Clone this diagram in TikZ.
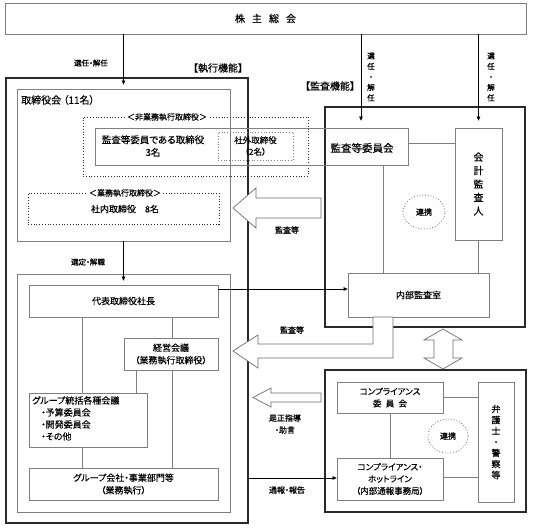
\documentclass[tikz,border=0pt]{standalone}
\usepackage{fontspec}
\setmainfont{Noto Sans CJK JP}[RawFeature=+palt, FakeBold=0.3]
\newfontfamily\semib{Noto Sans CJK JP}[RawFeature=+palt, FakeBold=0.9]
\usetikzlibrary{arrows.meta,shapes.geometric}
\definecolor{lgray}{HTML}{7F7F7F}
\definecolor{dgray}{HTML}{2A2A2A}
\definecolor{agray}{HTML}{6E6E6E}
\newcommand{\fsz}[2]{\fontsize{#1pt}{#2pt}\selectfont}
\begin{document}
\begin{tikzpicture}[x=1pt,y=-1pt,
  box/.style={draw=lgray, line width=0.7pt, inner sep=0pt, align=center, font=\fsz{9}{12.5}},
  thickbox/.style={draw=dgray, line width=1.6pt, inner sep=0pt},
  dotbox/.style={draw=dgray, line width=0.8pt, dotted, inner sep=0pt, align=center},
  lbl/.style={inner sep=1pt, align=center, font=\semib\fsz{7.5}{10.5}},
  conn/.style={draw=lgray, line width=0.7pt},
  arr/.style={draw=black, line width=0.6pt, -{Triangle[length=4pt,width=3.5pt]}},
  blk/.style={draw=agray, fill=white, line width=0.7pt, line join=miter},
  renkei/.style={draw=agray, dotted, line width=0.8pt, ellipse, inner sep=0pt, font=\semib\fsz{8}{10}}
]
\useasboundingbox[fill=white] (0,0) rectangle (533,532);

% outer frames
\node[thickbox, minimum width=242pt, minimum height=445pt] (execouter) at (127,300.5) {};
\node[thickbox, minimum width=200pt, minimum height=220pt] (audouter) at (425,217) {};
\node[thickbox, minimum width=201pt, minimum height=142pt] (compouter) at (425.5,441) {};

% top
\node[box, minimum width=521pt, minimum height=31pt, font=\fsz{10}{12}] (gm) at (265.5,18.5) {株\hspace{0.7em}主\hspace{0.7em}総\hspace{0.7em}会};

% board
\node[box, minimum width=213pt, minimum height=152pt] (board) at (123.5,165) {};
\node[anchor=west, inner sep=0pt, font=\fsz{10}{12}] (boardtitle) at (21,100) {取締役会 （11名）};
\node[dotbox, minimum width=225pt, minimum height=59pt] (nonexec) at (195.5,146.5) {};
\node[fill=white, inner sep=2pt, font=\fsz{8}{10}] (nonexeclbl) at (167,117) {＜非業務執行取締役＞};
\node[box, minimum width=313pt, minimum height=37pt] (audcomm) at (251.5,146.5) {};
\node[inner sep=0pt, align=center, font=\fsz{9.5}{12.5}] (audcommdir) at (153,146) {監査等委員である取締役\\3名};
\node[inner sep=0pt, font=\fsz{10.5}{12}] (audcommtxt) at (362,148) {監査等委員会};
\node[dotbox, draw=lgray, minimum width=75pt, minimum height=28pt, font=\fsz{8.5}{11.5}] (outside) at (255.5,146) {社外取締役\\（2名）};
\node[dotbox, minimum width=191pt, minimum height=31pt] (execdir) at (123.5,208.5) {};
\node[fill=white, inner sep=2pt, font=\fsz{8}{10}] (execdirlbl) at (125,193) {＜業務執行取締役＞};
\node[inner sep=0pt, font=\fsz{9}{11}] (execdirtxt) at (125,209) {社内取締役　8名};

% lower execution
\node[box, minimum width=213pt, minimum height=238pt] (lower) at (123.5,393) {};
\node[box, minimum width=189pt, minimum height=32pt] (pres) at (123.5,301) {代表取締役社長};
\node[box, minimum width=94pt, minimum height=32pt] (mgmt) at (171,354) {経営会議\\（業務執行取締役）};
\node[box, minimum width=118pt, minimum height=54pt] (group) at (88,420) {};
\node[anchor=north west, inner sep=0pt, align=left, font=\fsz{9}{12}] (grouptxt) at (32,396)
  {グループ統括各種会議\\\hspace{9pt}・予算委員会\\\hspace{9pt}・開発委員会\\\hspace{9pt}・その他};
\node[box, minimum width=189pt, minimum height=32pt] (gco) at (123.5,484) {グループ会社・事業部門等\\（業務執行）};

% audit side
\node[box, minimum width=47pt, minimum height=112pt, font=\fsz{10}{13.5}] (kaikei) at (478.5,184) {会\\計\\監\\査\\人};
\node[renkei, minimum width=42pt, minimum height=34pt] (renkei1) at (424,212) {連携};
\node[box, minimum width=141pt, minimum height=44pt] (naibu) at (418.5,295) {内部監査室};

% compliance side
\node[box, minimum width=106pt, minimum height=31pt, font=\fsz{8.5}{12}] (compcomm) at (390,397.5) {コンプライアンス\\委\hspace{0.5em}員\hspace{0.5em}会};
\node[box, minimum width=36pt, minimum height=120pt, font=\fsz{9}{11}] (lawyer) at (496,442) {弁\\護\\士\\・\\警\\察\\等};
\node[box, minimum width=106pt, minimum height=42pt, font=\fsz{8.5}{12}] (hotline) at (390,479) {コンプライアンス・\\ホットライン\\（内部通報事務局）};
\node[renkei, minimum width=40pt, minimum height=34pt] (renkei2) at (448,436) {連携};

% coordinates
\coordinate (xa) at (361,0);
\coordinate (xb) at (383,0);
\coordinate (xc) at (82,0);
\coordinate (xd) at (172,0);
\coordinate (xe) at (136,0);
\coordinate (xf) at (390,0);
\coordinate (ya) at (0,143);
\coordinate (yb) at (0,289);
\coordinate (yc) at (0,478);
\coordinate (yd) at (0,397);
\coordinate (ye) at (0,477);

% plain connectors
\draw[conn] (audcomm.east |- ya) -- (kaikei.west |- ya);
\draw[conn] (audcomm.south -| xb) -- (naibu.north -| xb);
\draw[conn] (kaikei.south) -- (naibu.north -| kaikei.south);
\draw[conn] (pres.south -| xc) -- (group.north -| xc);
\draw[conn] (group.south -| xc) -- (gco.north -| xc);
\draw[conn] (pres.south -| xd) -- (mgmt.north -| xd);
\draw[conn] (mgmt.south -| xd) -- (gco.north -| xd);
\draw[conn] (mgmt.south -| xe) -- (group.north -| xe);
\draw[conn] (compcomm.east |- yd) -- (lawyer.west |- yd);
\draw[conn] (hotline.east |- ye) -- (lawyer.west |- ye);
\draw[conn] (compcomm.south -| xf) -- (hotline.north -| xf);

% arrows
\draw[arr, shorten >=4pt] (gm.south -| board.north) -- (board.north);
\draw[arr, shorten >=7pt] (gm.south -| xa) -- (audcomm.north -| xa);
\draw[arr, shorten >=7pt] (gm.south -| kaikei.north) -- (kaikei.north);
\draw[arr, shorten >=4pt] (board.south) -- (pres.north);
\draw[arr] (pres.east |- yb) -- (naibu.west |- yb);
\draw[arr] (execouter.east |- yc) -- (hotline.west |- yc);

% block arrows
\draw[blk] (321,198) -- (256,198) -- (256,188) -- (233,208) -- (256,228) -- (256,218) -- (321,218) -- cycle;
\draw[blk] (393,317) -- (393,358) -- (258,358) -- (258,368) -- (233,351) -- (258,335) -- (258,344) -- (373,344) -- (373,317) -- cycle;
\draw[blk] (443,329) -- (462,340) -- (453,340) -- (453,358) -- (462,358) -- (443,369) -- (424,358) -- (434,358) -- (434,340) -- (424,340) -- cycle;
\draw[blk] (321,393) -- (271,393) -- (271,388) -- (253,397.5) -- (271,407) -- (271,402) -- (321,402) -- cycle;

% labels
\node[lbl] (l1) at (91,63) {選任・解任};
\node[lbl] (l2) at (371,77) {選\\任\\・\\解\\任};
\node[lbl] (l3) at (491,77) {選\\任\\・\\解\\任};
\node[inner sep=0pt, font=\fsz{10}{12}] (l4) at (218,68) {【執行機能】};
\node[inner sep=0pt, font=\fsz{10}{12}] (l5) at (330,86) {【監査機能】};
\node[lbl] (l6) at (88,262) {選定・解職};
\node[lbl, font=\semib\fsz{8}{10}] (l7) at (287,230) {監査等};
\node[lbl, font=\semib\fsz{8}{10}] (l8) at (292,330) {監査等};
\node[lbl, font=\semib\fsz{8}{12}] (l9) at (285,424) {是正指導\\・助言};
\node[lbl, font=\semib\fsz{8}{10}] (l10) at (287,490) {通報・報告};
\end{tikzpicture}
\end{document}
